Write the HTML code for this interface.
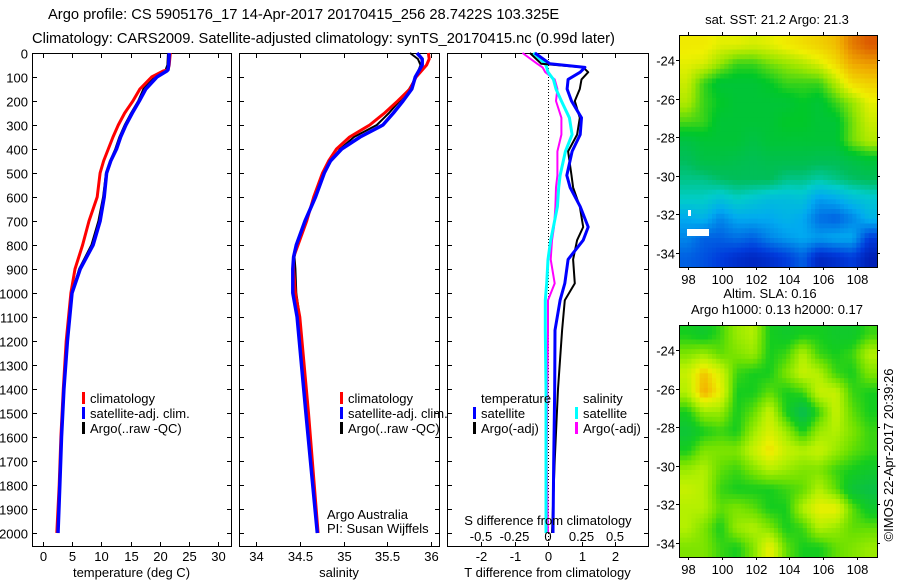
<!DOCTYPE html>
<html><head><meta charset="utf-8">
<style>
body{margin:0;background:#fff;}
svg text{font-family:"Liberation Sans",sans-serif;fill:#000;}
</style></head>
<body>
<svg id="chart" width="900" height="580" xmlns="http://www.w3.org/2000/svg" style="display:block">
<defs>
<clipPath id="clipA"><rect x="679" y="35" width="198" height="232"/></clipPath>
<clipPath id="clipB"><rect x="679" y="325" width="198" height="232"/></clipPath>
</defs>
<text x="48" y="19" font-size="14.7">Argo profile: CS 5905176_17 14-Apr-2017 20170415_256 28.7422S 103.325E</text>
<text x="32" y="43" font-size="14.7">Climatology: CARS2009. Satellite-adjusted climatology: synTS_20170415.nc (0.99d later)</text>
<g id="g1"></g>
<g id="g2"></g>
<g id="g3"></g>
<g id="gm"></g>
<text font-size="13" transform="translate(893,455) rotate(-90)" text-anchor="middle">©IMOS 22-Apr-2017 20:39:26</text>
</svg>
<script>
// ---- data ----
const tempDepth = [0,50,70,75,100,150,200,250,300,350,400,450,500,600,700,800,900,1000,1200,1400,1600,1800,2000];
const tempClim  = [21.8,21.6,21.4,20.6,18.6,16.6,15.4,14.0,12.9,12.0,11.2,10.4,9.8,9.3,7.9,6.8,5.5,4.8,4.0,3.5,3.1,2.8,2.4];
const tempSat   = [21.6,21.5,21.4,21.2,19.5,17.6,16.5,15.3,14.2,13.3,12.6,11.6,10.9,10.5,9.8,8.6,6.4,5.0,4.2,3.6,3.2,2.9,2.6];
const tempArgo  = [21.4,21.3,21.0,20.8,19.2,17.2,16.3,15.1,14.0,13.1,12.4,11.5,10.8,10.3,9.5,8.3,6.2,5.0,4.1,3.6,3.2,2.9,2.5];
const salDepth  = [0,25,50,100,150,200,250,300,350,400,450,500,600,700,800,850,900,1000,1100,1500,2000];
const salClim   = [35.97,35.98,35.95,35.83,35.76,35.62,35.47,35.30,35.07,34.92,34.83,34.76,34.66,34.58,34.48,34.43,34.43,34.45,34.50,34.60,34.71];
const salSat    = [35.84,35.90,35.90,35.82,35.78,35.68,35.57,35.45,35.19,34.98,34.85,34.78,34.68,34.56,34.46,34.43,34.42,34.42,34.47,34.57,34.70];
const salArgo   = [35.76,35.85,35.88,35.83,35.75,35.64,35.52,35.38,35.12,34.96,34.86,34.78,34.67,34.57,34.47,34.44,34.45,34.46,34.50,34.59,34.70];
const diffDepth = [0,45,60,80,110,150,200,270,340,410,510,560,640,725,780,860,960,1030,1155,1400,1700,2000];
const tDiffSat  = [-0.39,0.06,1.1,0.96,0.6,0.57,0.7,1.0,0.96,0.72,0.56,0.66,0.96,1.2,1.05,0.6,0.5,0.36,0.21,0.2,0.17,0.15];
const tDiffArgo = [-0.54,-0.2,1.05,1.2,1.0,0.95,0.8,0.95,0.87,0.6,0.7,0.75,0.95,1.05,0.87,0.75,0.8,0.5,0.42,0.3,0.2,0.12];
const sDiffSat  = [-0.11,-0.02,-0.01,0.0,0.04,0.06,0.1,0.16,0.18,0.13,0.09,0.08,0.07,0.04,0.02,0.0,-0.01,-0.02,-0.02,-0.015,-0.015,-0.015];
const sDiffArgo = [-0.19,-0.08,-0.04,-0.02,0.05,0.07,0.06,0.1,0.1,0.07,0.07,0.06,0.055,0.045,0.03,0.02,0.05,0.0,0.0,-0.005,-0.01,0.0];
const depthTicks = [0,100,200,300,400,500,600,700,800,900,1000,1100,1200,1300,1400,1500,1600,1700,1800,1900,2000];
const tempTicks = [0,5,10,15,20,25,30];
const salTicks = [34,34.5,35,35.5,36];
const tDiffTicks = [-2,-1,0,1,2];
const sDiffTicks = [-0.5,-0.25,0,0.25,0.5];
const sstGrid = [
[0.68,0.68,0.66,0.66,0.65,0.66,0.68,0.70,0.72,0.75,0.85,0.90],
[0.66,0.65,0.60,0.55,0.55,0.58,0.60,0.62,0.65,0.70,0.78,0.80],
[0.64,0.55,0.50,0.50,0.50,0.52,0.55,0.55,0.55,0.62,0.70,0.72],
[0.62,0.55,0.52,0.50,0.50,0.50,0.50,0.52,0.50,0.55,0.60,0.66],
[0.56,0.55,0.50,0.50,0.50,0.50,0.52,0.52,0.50,0.50,0.58,0.64],
[0.48,0.50,0.50,0.50,0.48,0.50,0.50,0.50,0.50,0.50,0.58,0.62],
[0.45,0.48,0.48,0.47,0.46,0.47,0.47,0.47,0.46,0.46,0.48,0.50],
[0.42,0.42,0.44,0.45,0.45,0.45,0.42,0.42,0.40,0.42,0.44,0.45],
[0.38,0.38,0.35,0.38,0.36,0.34,0.34,0.35,0.28,0.30,0.34,0.36],
[0.30,0.32,0.25,0.30,0.30,0.30,0.32,0.30,0.22,0.20,0.25,0.32],
[0.25,0.20,0.20,0.22,0.20,0.25,0.28,0.30,0.28,0.30,0.30,0.15],
[0.20,0.18,0.15,0.12,0.10,0.12,0.15,0.20,0.10,0.12,0.15,0.08]];
const slaGrid = [
[0.30,0.25,0.35,0.50,0.55,0.30,0.25,0.30,0.30,0.25,0.25,0.35],
[0.45,0.50,0.40,0.45,0.50,0.30,0.35,0.55,0.35,0.30,0.35,0.55],
[0.60,0.80,0.65,0.35,0.30,0.30,0.45,0.60,0.55,0.35,0.30,0.45],
[0.55,0.85,0.70,0.30,0.30,0.40,0.30,0.35,0.60,0.60,0.35,0.30],
[0.30,0.50,0.50,0.30,0.40,0.60,0.30,0.10,0.35,0.60,0.40,0.30],
[0.20,0.30,0.35,0.30,0.50,0.65,0.50,0.30,0.50,0.55,0.45,0.35],
[0.30,0.45,0.45,0.45,0.60,0.75,0.60,0.55,0.60,0.50,0.40,0.35],
[0.50,0.55,0.40,0.35,0.45,0.55,0.50,0.45,0.45,0.35,0.30,0.25],
[0.60,0.55,0.35,0.30,0.30,0.30,0.35,0.40,0.55,0.40,0.20,0.15],
[0.55,0.55,0.40,0.45,0.40,0.30,0.30,0.55,0.70,0.70,0.40,0.25],
[0.55,0.45,0.30,0.50,0.55,0.45,0.30,0.35,0.55,0.50,0.40,0.40],
[0.45,0.45,0.35,0.30,0.45,0.70,0.40,0.30,0.30,0.40,0.45,0.50]];
const lonTicks = [98,100,102,104,106,108];
const latTicks = [-24,-26,-28,-30,-32,-34];

// ---- helpers ----
const NS="http://www.w3.org/2000/svg";
function mk(parent,tag,attrs,txt){const e=document.createElementNS(NS,tag);for(const k in attrs)e.setAttribute(k,attrs[k]);if(txt!==undefined)e.textContent=txt;parent.appendChild(e);return e;}
const yD = d => 53 + d*0.24;
const pTop=53, pBot=546;

function panel(g,x0,x1,xs,ticks,xlab,tickFmt,leftLabels){
  const box=mk(g,'rect',{x:x0+0.5,y:pTop+0.5,width:x1-x0,height:pBot-pTop,fill:'none',stroke:'#000','stroke-width':1});
  
  
  depthTicks.forEach(d=>{
    const y=Math.round(yD(d))+0.5;
    mk(g,'line',{x1:x0,x2:x0+5,y1:y,y2:y,stroke:'#000'});
    mk(g,'line',{x1:x1-4,x2:x1+1,y1:y,y2:y,stroke:'#000'});
    if(leftLabels){const t=mk(g,'text',{x:28,y:y+5,'font-size':13,'text-anchor':'end'},String(d));
      
      }
  });
  ticks.forEach(v=>{
    const x=Math.round(xs(v))+0.5;
    mk(g,'line',{x1:x,x2:x,y1:pBot-4,y2:pBot+1,stroke:'#000'});
    mk(g,'line',{x1:x,x2:x,y1:pTop,y2:pTop+5,stroke:'#000'});
    const t=mk(g,'text',{x:x,y:561,'font-size':13,'text-anchor':'middle'},tickFmt(v));
    
    
  });
  const xl=mk(g,'text',{x:(x0+x1)/2,y:577,'font-size':13,'text-anchor':'middle'},xlab);
  
  
}
function line(g,depths,vals,xs,color,w,name){
  const pts=depths.map((d,i)=>xs(vals[i]).toFixed(1)+','+yD(d).toFixed(1)).join(' ');
  const p=mk(g,'polyline',{points:pts,fill:'none',stroke:color,'stroke-width':w,'stroke-linejoin':'round'});
  
  
}
function legend(g,x,y,items){
  items.forEach((it,i)=>{
    mk(g,'rect',{x:x,y:y+i*15-11,width:3,height:12,fill:it[1]});
    const t=mk(g,'text',{x:x+8,y:y+i*15,'font-size':13},it[0]);
    
    
  });
}

// ---- panel 1 temperature ----
const g1=document.getElementById('g1');
const xT=v=>42.8+v*5.85;
panel(g1,32,231,xT,tempTicks,'temperature (deg C)',String,true);
line(g1,tempDepth,tempArgo,xT,'#000',2,'argo-temperature-line');
line(g1,tempDepth,tempClim,xT,'#f00',3,'climatology-temperature-line');
line(g1,tempDepth,tempSat,xT,'#00f',3.5,'satellite-temperature-line');
legend(g1,82,403,[['climatology','#f00'],['satellite-adj. clim.','#00f'],['Argo(..raw -QC)','#000']]);

// ---- panel 2 salinity ----
const g2=document.getElementById('g2');
const xS=v=>256+(v-34)*87.5;
panel(g2,239,439,xS,salTicks,'salinity',String,false);
line(g2,salDepth,salArgo,xS,'#000',2,'argo-salinity-line');
line(g2,salDepth,salClim,xS,'#f00',3,'climatology-salinity-line');
line(g2,salDepth,salSat,xS,'#00f',3.5,'satellite-salinity-line');
legend(g2,340,403,[['climatology','#f00'],['satellite-adj. clim.','#00f'],['Argo(..raw -QC)','#000']]);
mk(g2,'text',{x:327,y:519,'font-size':13},'Argo Australia');
mk(g2,'text',{x:327,y:533,'font-size':13},'PI: Susan Wijffels');

// ---- panel 3 differences ----
const g3=document.getElementById('g3');
const xTD=v=>548+v*33.5, xSD=v=>548+v*134;
panel(g3,447,648,xTD,tDiffTicks,'T difference from climatology',String,false);
mk(g3,'line',{x1:548.5,x2:548.5,y1:pTop,y2:pBot,stroke:'#000','stroke-dasharray':'1,2'});
line(g3,diffDepth,sDiffArgo,xSD,'#f0f',2,'argo-salinity-diff-line');
line(g3,diffDepth,sDiffSat,xSD,'#0ff',3,'satellite-salinity-diff-line');
line(g3,diffDepth,tDiffArgo,xTD,'#000',2,'argo-temperature-diff-line');
line(g3,diffDepth,tDiffSat,xTD,'#00f',3,'satellite-temperature-diff-line');
mk(g3,'text',{x:481,y:403,'font-size':13},'temperature');
mk(g3,'text',{x:583,y:403,'font-size':13},'salinity');
legend(g3,473,418,[['satellite','#00f'],['Argo(-adj)','#000']]);
legend(g3,575,418,[['satellite','#0ff'],['Argo(-adj)','#f0f']]);
const st=mk(g3,'text',{x:548,y:525,'font-size':13,'text-anchor':'middle'},'S difference from climatology');


sDiffTicks.forEach(v=>{const t=mk(g3,'text',{x:xSD(v),y:541,'font-size':13,'text-anchor':'middle'},String(v));
  
  });

// ---- maps ----
const gm=document.getElementById('gm');
function ramp(stops,v){
  for(let i=1;i<stops.length;i++){if(v<=stops[i][0]){const a=stops[i-1],b=stops[i],t=(v-a[0])/(b[0]-a[0]);return a[1].map((c,k)=>c+(b[1][k]-c)*t);}}
  return stops[stops.length-1][1];
}
const sstStops=[[0,[0,0,140]],[0.15,[0,60,220]],[0.3,[0,170,240]],[0.38,[0,205,200]],[0.45,[0,190,90]],[0.52,[0,200,40]],[0.6,[150,230,0]],[0.67,[240,240,0]],[0.78,[240,170,0]],[0.9,[220,90,0]],[1,[160,0,0]]];
const slaStops=[[0,[0,180,110]],[0.3,[20,205,30]],[0.42,[110,225,0]],[0.55,[180,240,0]],[0.7,[235,240,0]],[0.85,[245,170,0]],[1,[240,120,0]]];
const sstC=v=>ramp(sstStops,v), slaC=v=>ramp(slaStops,v);
function sample(grid,fr,fc){
  fr=Math.max(0,Math.min(11,fr));fc=Math.max(0,Math.min(11,fc));
  const r0=Math.floor(fr),c0=Math.floor(fc),r1=Math.min(11,r0+1),c1=Math.min(11,c0+1),tr=fr-r0,tc=fc-c0;
  return grid[r0][c0]*(1-tr)*(1-tc)+grid[r0][c1]*(1-tr)*tc+grid[r1][c0]*tr*(1-tc)+grid[r1][c1]*tr*tc;
}
function mapPanel(x0,y0,w,h,grid,cmap,lat24,lat34,title,name,clip){
  const mg=mk(gm,'g',{'clip-path':'url(#'+clip+')'});
  
  
  const N=48, cw=w/N, ch=h/N;
  for(let i=0;i<N;i++)for(let j=0;j<N;j++){
    const v=sample(grid,(i+0.5)/N*12-0.5,(j+0.5)/N*12-0.5);
    const c=cmap(v).map(Math.round);
    mk(mg,'rect',{x:(x0+j*cw).toFixed(2),y:(y0+i*ch).toFixed(2),width:(cw+0.6).toFixed(2),height:(ch+0.6).toFixed(2),fill:'rgb('+c.join(',')+')'});
  }
  mk(gm,'rect',{x:x0+0.5,y:y0+0.5,width:w,height:h,fill:'none',stroke:'#000'});
  const xl=v=>688+(v-98)*16.9, yl=v=>lat24+(v+24)/(-10)*(lat34-lat24);
  lonTicks.forEach(v=>{const x=Math.round(xl(v))+0.5;
    mk(gm,'line',{x1:x,x2:x,y1:y0-3,y2:y0,stroke:'#000'});mk(gm,'line',{x1:x,x2:x,y1:y0+h,y2:y0+h+3,stroke:'#000'});
    mk(gm,'text',{x:x,y:y0+h+17,'font-size':13,'text-anchor':'middle'},String(v));});
  latTicks.forEach(v=>{const y=Math.round(yl(v))+0.5;
    mk(gm,'line',{x1:x0-3,x2:x0,y1:y,y2:y,stroke:'#000'});mk(gm,'line',{x1:x0+w,x2:x0+w+3,y1:y,y2:y,stroke:'#000'});
    mk(gm,'text',{x:x0-4,y:y+5,'font-size':13,'text-anchor':'end'},String(v));});
  title.forEach((t,i)=>mk(gm,'text',{x:t[1],y:y0-27+i*16+(title.length==1?16:0),'font-size':13,'text-anchor':'middle'},t[0]));
}
mapPanel(679,35,198,232,sstGrid,sstC,60,253,[['sat. SST: 21.2 Argo: 21.3',777]],'sst-map','clipA');
mapPanel(679,325,198,232,slaGrid,slaC,350,543,[['Altim. SLA: 0.16',770],['Argo h1000: 0.13 h2000: 0.17',777]],'sla-map','clipB');
mk(gm,'rect',{x:687,y:229,width:22,height:7,fill:'#fff'});
mk(gm,'rect',{x:688,y:210,width:3,height:6,fill:'#fff'});
</script>
</body></html>
